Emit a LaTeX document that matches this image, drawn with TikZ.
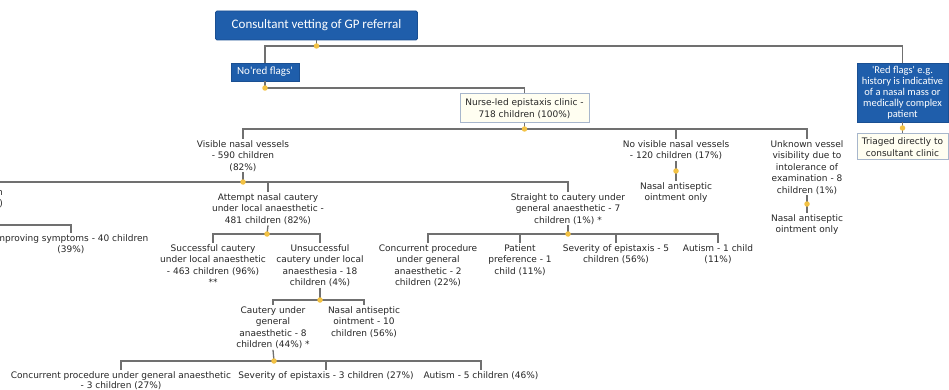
\documentclass[tikz,border=0pt]{standalone}
\usepackage{fontspec}
\setmainfont{DejaVu Sans}
\newfontfamily\calfnt{Carlito}
\definecolor{boxblue}{HTML}{1F5EAB}
\definecolor{boxblueedge}{HTML}{1A4F92}
\definecolor{creamfill}{HTML}{FFFEF1}
\definecolor{creamedge}{HTML}{A7B6CC}
\definecolor{linegray}{HTML}{707070}
\definecolor{dotyellow}{HTML}{F3C244}
\definecolor{txt}{HTML}{262626}
\tikzset{
  bluebox/.style={fill=boxblue, draw=boxblueedge, line width=0.8pt, text=white, rounded corners=1.5pt, align=center, inner sep=0pt, font=\calfnt},
  creambox/.style={fill=creamfill, draw=creamedge, line width=1pt, text=txt, align=center, inner sep=0pt, font=\fontsize{9}{11.5}\selectfont},
  lbl/.style={align=center, font=\fontsize{9}{11.5}\selectfont, inner sep=1pt, anchor=north, text=txt},
  conn/.style={draw=linegray, line width=1.3pt},
  jdot/.style={circle, fill=dotyellow, inner sep=0pt, minimum size=5.5pt}
}
\begin{document}
\begin{tikzpicture}[x=1pt,y=-1pt]
\useasboundingbox (0,0) rectangle (949,390);
\clip (0,0) rectangle (949,390);
% boxes
\node[bluebox, minimum width=202pt, minimum height=29pt, font=\calfnt\fontsize{13}{15}\selectfont] (head) at (316.5,25.5) {Consultant vetting of GP referral};
\node[bluebox, minimum width=68pt, minimum height=18pt, rounded corners=0pt, font=\calfnt\fontsize{11}{13}\selectfont] (nored) at (265,72) {No'red flags'};
\node[bluebox, minimum width=91pt, minimum height=59pt, rounded corners=0pt, font=\calfnt\fontsize{10.5}{10.9}\selectfont] (red) at (902.5,92.5) {'Red flags' e.g.\\history is indicative\\of a nasal mass or\\medically complex\\patient};
\node[creambox, minimum width=91pt, minimum height=26pt] (tri) at (902.5,147) {Triaged directly to\\consultant clinic};
\node[creambox, minimum width=129pt, minimum height=29pt] (nurse) at (524.5,108.5) {Nurse-led epistaxis clinic -\\718 children (100\%)};
% text nodes
\node[lbl] (vis) at (243,139) {Visible nasal vessels\\- 590 children\\(82\%)};
\node[lbl] (novis) at (676,139) {No visible nasal vessels\\- 120 children (17\%)};
\node[lbl] (novisB) at (676,181) {Nasal antiseptic\\ointment only};
\node[lbl] (unk) at (807,139) {Unknown vessel\\visibility due to\\intolerance of\\examination - 8\\children (1\%)};
\node[lbl] (unkB) at (807,213) {Nasal antiseptic\\ointment only};
\node[lbl] (att) at (268,192) {Attempt nasal cautery\\under local anaesthetic -\\481 children (82\%)};
\node[lbl] (str) at (568,192) {Straight to cautery under\\general anaesthetic - 7\\children (1\%) *};
\node[lbl] (succ) at (213,243) {Successful cautery\\under local anaesthetic\\- 463 children (96\%)\\**};
\node[lbl] (uns) at (320,243) {Unsuccessful\\cautery under local\\anaesthesia - 18\\children (4\%)};
\node[lbl] (caut) at (273,305) {Cautery under\\general\\anaesthetic - 8\\children (44\%) *};
\node[lbl] (nas) at (364,305) {Nasal antiseptic\\ointment - 10\\children (56\%)};
\node[lbl, font=\fontsize{9}{10.5}\selectfont] (conc) at (121,370) {Concurrent procedure under general anaesthetic\\- 3 children (27\%)};
\node[lbl] (sev3) at (326,370) {Severity of epistaxis - 3 children (27\%)};
\node[lbl] (aut5) at (481,370) {Autism - 5 children (46\%)};
\node[lbl] (conc2) at (428,243) {Concurrent procedure\\under general\\anaesthetic - 2\\children (22\%)};
\node[lbl] (pat) at (520,243) {Patient\\preference - 1\\child (11\%)};
\node[lbl] (sev5) at (616,243) {Severity of epistaxis - 5\\children (56\%)};
\node[lbl] (aut1) at (718,243) {Autism - 1 child\\(11\%)};
\node[lbl] (impr) at (71,233) {Improving symptoms - 40 children\\(39\%)};
\node[lbl, anchor=north east, align=right, inner sep=0pt] (lpart) at (3,190) {n\\)};
% junctions
\coordinate (d1) at (316.5,46);
\coordinate (d2) at (265,88);
\coordinate (d3) at (902.5,128);
\coordinate (d4) at (524.5,129);
\coordinate (d5) at (243,182);
\coordinate (d6) at (676,171);
\coordinate (d7) at (807,204);
\coordinate (d8) at (267,234);
\coordinate (d9) at (320,300);
\coordinate (d10) at (274,361);
\coordinate (d11) at (568,234);
\coordinate (lend1) at (-10,182);
\coordinate (lend2) at (-10,225);
% connectors
\draw[conn] (head.south) -- (d1);
\draw[conn] (d1) -| (nored.north);
\draw[conn] (d1) -| (red.north);
\draw[conn] (nored.south) -- (d2) -| (nurse.north);
\draw[conn] (red.south) -- (d3) -- (tri.north);
\draw[conn] (nurse.south) -- (d4);
\draw[conn] (d4) -| (vis.north);
\draw[conn] (d4) -| (novis.north);
\draw[conn] (d4) -| (unk.north);
\draw[conn] (vis.south) -- (d5);
\draw[conn] (d5) -- (lend1);
\draw[conn] (d5) -| (att.north);
\draw[conn] (d5) -| (str.north);
\draw[conn] (novis.south) -- (d6) -- (novisB.north);
\draw[conn] (unk.south) -- (d7) -- (unkB.north);
\draw[conn] (att.south) -- (d8);
\draw[conn] (d8) -| (succ.north);
\draw[conn] (d8) -| (uns.north);
\draw[conn] (uns.south) -- (d9);
\draw[conn] (d9) -| (caut.north);
\draw[conn] (d9) -| (nas.north);
\draw[conn] (caut.south) -- (d10);
\draw[conn] (d10) -| (conc.north);
\draw[conn] (d10) -| (sev3.north);
\draw[conn] (d10) -| (aut5.north);
\draw[conn] (str.south) -- (d11);
\draw[conn] (d11) -| (conc2.north);
\draw[conn] (d11) -| (pat.north);
\draw[conn] (d11) -| (sev5.north);
\draw[conn] (d11) -| (aut1.north);
\draw[conn] (lend2) -| (impr.north);
% dots
\foreach \d in {d1,d2,d3,d4,d5,d6,d7,d8,d9,d10,d11}
  \node[jdot] at (\d) {};
\end{tikzpicture}
\end{document}
